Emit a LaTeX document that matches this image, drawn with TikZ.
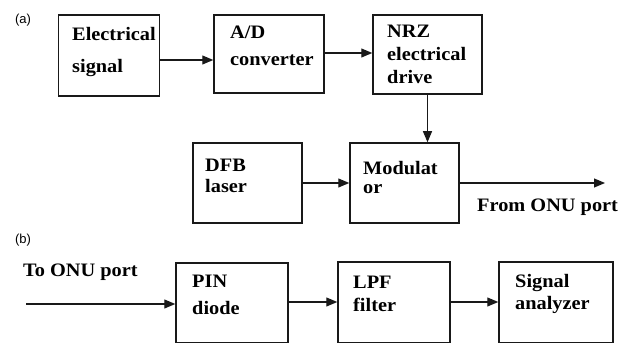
\documentclass[tikz,border=0pt]{standalone}
\usepackage{fontspec}
\setmainfont{Liberation Serif}[FakeStretch=1.07]
\newfontfamily\labfont{Liberation Sans}
\usetikzlibrary{arrows.meta}
\newcommand\mlines[2]{\vtop{\baselineskip=#1\relax\lineskiplimit=-100pt\relax #2}}
\tikzset{
  box/.style={draw=black!90, line width=1.5pt, rectangle, inner sep=0pt},
  txt/.style={anchor=base west, inner sep=0pt, font=\fontsize{19}{22}\selectfont\bfseries},
  tag/.style={inner sep=0pt, font=\labfont\fontsize{13}{15}\selectfont},
  arr/.style={draw=black!90, line width=1.2pt, -{Triangle[length=11pt,width=9pt]}}
}
\begin{document}
\begin{tikzpicture}[x=1pt,y=-1pt]
\useasboundingbox (0,0) rectangle (627,344);
% labels
\node[tag] (la) at (23,20) {(a)};
\node[tag] (lb) at (23,240) {(b)};
% row a
\node[box, minimum width=101pt, minimum height=81pt] (E) at (109,55.5) {};
\node[box, minimum width=110pt, minimum height=78pt] (AD) at (269,54) {};
\node[box, minimum width=109pt, minimum height=79pt] (NRZ) at (427.5,54.5) {};
\node[box, minimum width=109pt, minimum height=80pt] (DFB) at (247.5,183) {};
\node[box, minimum width=109pt, minimum height=80pt] (MOD) at (404.5,183) {};
\node[txt] (tE) at (72,41) {\mlines{32pt}{\hbox{Electrical}\hbox{signal}}};
\node[txt] (tAD) at (230,39) {\mlines{27pt}{\hbox{A/D}\hbox{converter}}};
\node[txt] (tNRZ) at (387,38) {\mlines{23pt}{\hbox{NRZ}\hbox{electrical}\hbox{drive}}};
\node[txt] (tDFB) at (205,172) {\mlines{21pt}{\hbox{DFB}\hbox{laser}}};
\node[txt] (tMOD) at (363,175) {\mlines{19pt}{\hbox{Modulat}\hbox{or}}};
\node[txt] (tFrom) at (477,212) {From ONU port};
\coordinate (out) at (605,183);
\draw[arr] (E.east |- 0,60) -- (AD.west |- 0,60);
\draw[arr] (AD.east |- 0,53) -- (NRZ.west |- 0,53);
\draw[arr] (NRZ.south) -- (MOD.north -| NRZ.south);
\draw[arr] (DFB.east |- 0,183) -- (MOD.west |- 0,183);
\draw[arr] (MOD.east |- 0,183) -- (out);
% row b
\node[box, minimum width=112pt, minimum height=79.5pt] (PIN) at (232,302.75) {};
\node[box, minimum width=112pt, minimum height=80.5pt] (LPF) at (394,302.25) {};
\node[box, minimum width=114pt, minimum height=80.5pt] (SA) at (556,302.25) {};
\node[txt] (tTo) at (23,277) {To ONU port};
\node[txt] (tPIN) at (192,288) {\mlines{27pt}{\hbox{PIN}\hbox{diode}}};
\node[txt] (tLPF) at (353,289) {\mlines{23pt}{\hbox{LPF}\hbox{filter}}};
\node[txt] (tSA) at (515,288) {\mlines{22pt}{\hbox{Signal}\hbox{analyzer}}};
\coordinate (in) at (26,304);
\draw[arr] (in) -- (PIN.west |- in);
\draw[arr] (PIN.east |- 0,302) -- (LPF.west |- 0,302);
\draw[arr] (LPF.east |- 0,302) -- (SA.west |- 0,302);
\end{tikzpicture}
\end{document}
